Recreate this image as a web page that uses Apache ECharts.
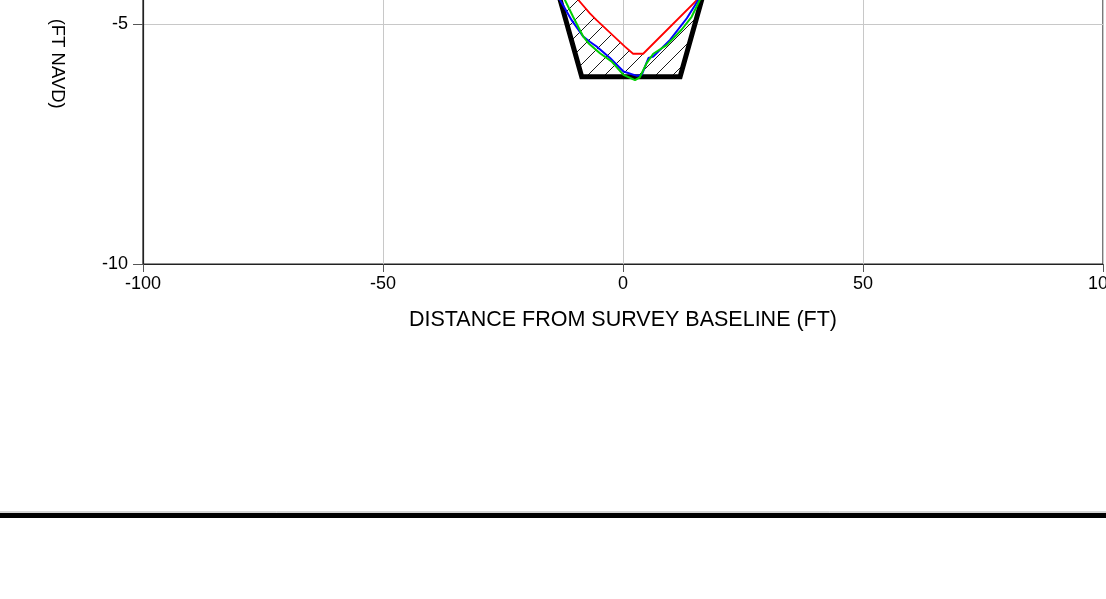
<!DOCTYPE html>
<html>
<head>
<meta charset="utf-8">
<script src="https://cdn.jsdelivr.net/npm/echarts@6/dist/echarts.min.js"></script>
<style>
  html, body { margin: 0; padding: 0; background: #fff; }
  #chartDiv { width: 1106px; height: 599px; }
</style>
</head>
<body>
<div id="chartDiv"></div>
<script>
// design template (x, elevation)
var templateLine = [[-20.1, -2], [-8.6, -6.1], [11.9, -6.1], [23.4, -2]];

// surveys
var redSurvey = [[-14.5, -4.0], [-9.3, -4.5], [-6.9, -4.78], [-5.5, -4.92], [0.4, -5.47], [2.1, -5.62],
  [4.2, -5.62], [15.4, -4.5], [17.2, -4.2]];
var blueSurvey = [[-14.5, -4.0], [-13.1, -4.5], [-10.7, -4.92], [-8.3, -5.26], [-6.9, -5.37], [-5.5, -5.47],
  [-2.7, -5.71], [0.1, -5.99], [2.9, -6.08], [3.9, -6.06], [5.3, -5.71], [6.3, -5.68], [9.8, -5.33],
  [13.3, -4.88], [15.7, -4.5], [17.2, -4.2]];
var greenSurvey = [[-14.5, -4.0], [-12.1, -4.5], [-10.4, -4.85], [-8.3, -5.26], [-7.2, -5.4], [-4.8, -5.61],
  [-2.4, -5.78], [0.1, -6.06], [2.5, -6.17], [3.5, -6.11], [4.9, -5.82], [6.3, -5.62], [9.1, -5.44],
  [12.2, -5.12], [14.3, -4.85], [16.0, -4.5], [17.2, -4.2]];

var xTicks = [-100, -50, 0, 50, 100];
var yTicks = [-10, -5, 0];

// hatch pattern for the area between red survey and template
var hatch = document.createElement('canvas');
hatch.width = 17; hatch.height = 17;
var hc = hatch.getContext('2d');
hc.strokeStyle = '#000';
hc.lineWidth = 0.9;
hc.beginPath();
hc.moveTo(-2, 19); hc.lineTo(19, -2);
hc.stroke();

var chart = echarts.init(document.getElementById('chartDiv'), null, {});

var fontName = 'Liberation Sans, Arial, sans-serif';

// plot area: -10 sits at y=264, -5 at y=24, the top runs off the page
var yMax = 0.88;
var pxPerFt = 48;

var option = {
  animation: false,
  grid: {
    left: 143, width: 960,
    top: 24 - (yMax + 5) * pxPerFt, height: (yMax + 10) * pxPerFt,
    outerBoundsMode: 'none', containLabel: false,
    show: true, borderColor: '#222', borderWidth: 1.2, backgroundColor: 'transparent'
  },
  xAxis: {
    type: 'value',
    min: xTicks[0], max: xTicks[xTicks.length - 1], interval: 50,
    name: 'DISTANCE FROM SURVEY BASELINE (FT)',
    nameLocation: 'middle', nameGap: 45,
    nameTextStyle: { fontFamily: fontName, fontSize: 21.5, color: '#000' },
    axisLine: { onZero: false, lineStyle: { color: '#222', width: 1.2 } },
    axisTick: { length: 8, lineStyle: { color: '#555' } },
    axisLabel: { margin: 11, fontFamily: fontName, fontSize: 18, color: '#000' },
    splitLine: { lineStyle: { color: '#c8c8c8', width: 1 } }
  },
  yAxis: {
    type: 'value',
    min: yTicks[0], max: yMax, interval: 5,
    name: 'ELEVATION    (FT NAVD)',
    nameLocation: 'middle', nameGap: 76, nameRotate: -90,
    nameTextStyle: { fontFamily: fontName, fontSize: 18.5, color: '#000' },
    axisLine: { onZero: false, lineStyle: { color: '#222', width: 1.2 } },
    axisTick: { show: true, length: 10, lineStyle: { color: '#555' } },
    axisLabel: { margin: 15, fontFamily: fontName, fontSize: 18, color: '#000' },
    splitLine: { lineStyle: { color: '#c8c8c8', width: 1 } }
  },
  graphic: [
    { type: 'line', shape: { x1: 0, y1: 512, x2: 1106, y2: 512 }, style: { stroke: '#aaa', lineWidth: 1 } },
    { type: 'rect', shape: { x: 0, y: 513, width: 1106, height: 5 }, style: { fill: '#000' } }
  ],
  series: [
    {
      type: 'custom',
      data: [0],
      silent: true,
      renderItem: function (params, api) {
        var pts = [];
        redSurvey.forEach(function (p) { pts.push(api.coord(p)); });
        pts.push(api.coord(templateLine[2]));
        pts.push(api.coord(templateLine[1]));
        return {
          type: 'polygon',
          shape: { points: pts },
          style: { fill: { image: hatch, repeat: 'repeat' }, stroke: null }
        };
      },
      z: 1
    },
    {
      type: 'line', data: templateLine, symbol: 'none',
      lineStyle: { color: '#000', width: 5, join: 'miter' }, z: 2
    },
    {
      type: 'line', data: redSurvey, symbol: 'none',
      lineStyle: { color: '#ff0000', width: 1.8 }, z: 3
    },
    {
      type: 'line', data: blueSurvey, symbol: 'none',
      lineStyle: { color: '#0000ff', width: 2 }, z: 4
    },
    {
      type: 'line', data: greenSurvey, symbol: 'none',
      lineStyle: { color: '#00d000', width: 2 }, z: 5
    }
  ]
};

chart.setOption(option);

window.addEventListener('resize', function () {
  chart.resize();
});
</script>
</body>
</html>
